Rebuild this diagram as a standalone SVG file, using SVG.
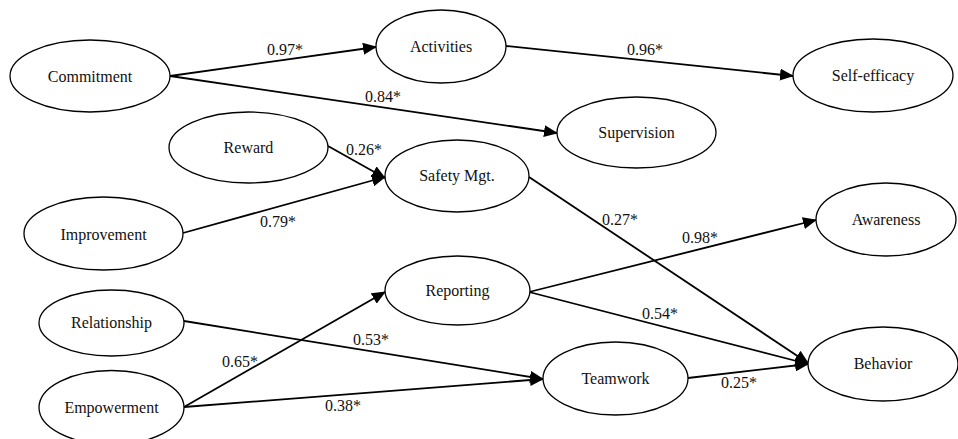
<svg xmlns="http://www.w3.org/2000/svg" width="958" height="439" viewBox="0 0 958 439">
<style>
.n ellipse{fill:#fff;stroke:#000;stroke-width:1.3}
.n text, .lb text{font-family:'Liberation Serif','Tinos','DejaVu Serif',serif;font-size:16px;text-anchor:middle;fill:#111}
.e line{stroke:#000;stroke-width:1.8;fill:none}
.e .a{marker-end:url(#ah)}
</style>
<defs>
<marker id="ah" markerUnits="userSpaceOnUse" markerWidth="14" markerHeight="12" viewBox="0 0 14 12" refX="13" refY="6" orient="auto">
<path d="M0,0 L14,6 L0,12 Z" fill="#000"/>
</marker>
</defs>
<g class="e" id="connectors">
<line class="a" x1="170" y1="76" x2="376" y2="47"/>
<line class="a" x1="506" y1="46" x2="793" y2="76"/>
<line class="a" x1="170" y1="76" x2="557" y2="133"/>
<line class="a" x1="328" y1="146" x2="385" y2="178"/>
<line class="a" x1="183" y1="233" x2="385" y2="177"/>
<line class="a" x1="529" y1="177" x2="808" y2="363"/>
<line class="a" x1="529" y1="292" x2="816" y2="220"/>
<line class="a" x1="529" y1="292" x2="808" y2="364"/>
<line class="a" x1="184" y1="321" x2="543" y2="379"/>
<line class="a" x1="184" y1="407" x2="385" y2="292"/>
<line class="a" x1="184" y1="407" x2="543" y2="379"/>
<line class="a" x1="688" y1="378" x2="808" y2="364"/>
</g>
<g id="Commitment" class="n"><ellipse cx="90" cy="76" rx="80" ry="36"/><text x="90" y="82" font-family="Liberation Serif, serif">Commitment</text></g>
<g id="Activities" class="n"><ellipse cx="441" cy="46.5" rx="65" ry="36.5"/><text x="441" y="52">Activities</text></g>
<g id="Self-efficacy" class="n"><ellipse cx="873" cy="75.5" rx="80" ry="36.5"/><text x="873" y="81">Self-efficacy</text></g>
<g id="Supervision" class="n"><ellipse cx="636.5" cy="132.5" rx="79.5" ry="35.5"/><text x="636.5" y="138">Supervision</text></g>
<g id="Reward" class="n"><ellipse cx="248.5" cy="147.5" rx="79.5" ry="35.5"/><text x="248.5" y="153">Reward</text></g>
<g id="SafetyMgt" class="n"><ellipse cx="457" cy="176" rx="72" ry="36"/><text x="457" y="181">Safety Mgt.</text></g>
<g id="Improvement" class="n"><ellipse cx="103.5" cy="233.5" rx="79.5" ry="36.5"/><text x="103.5" y="240">Improvement</text></g>
<g id="Awareness" class="n"><ellipse cx="886" cy="219.5" rx="70" ry="36.5"/><text x="886" y="225">Awareness</text></g>
<g id="Reporting" class="n"><ellipse cx="457.5" cy="290.5" rx="72.5" ry="34.5"/><text x="457.5" y="296">Reporting</text></g>
<g id="Relationship" class="n"><ellipse cx="111.5" cy="323" rx="72.5" ry="33"/><text x="111.5" y="328">Relationship</text></g>
<g id="Empowerment" class="n"><ellipse cx="111.5" cy="407.5" rx="72.5" ry="37"/><text x="111.5" y="413">Empowerment</text></g>
<g id="Teamwork" class="n"><ellipse cx="615.5" cy="378.5" rx="72.5" ry="36.5"/><text x="615.5" y="384">Teamwork</text></g>
<g id="Behavior" class="n"><ellipse cx="883" cy="364" rx="75" ry="37"/><text x="883" y="369">Behavior</text></g>
<g class="lb" id="labels">
<text x="285" y="55">0.97*</text>
<text x="645" y="55">0.96*</text>
<text x="383" y="102">0.84*</text>
<text x="364" y="155">0.26*</text>
<text x="278" y="227">0.79*</text>
<text x="620" y="225">0.27*</text>
<text x="700" y="243">0.98*</text>
<text x="660" y="319">0.54*</text>
<text x="371" y="345">0.53*</text>
<text x="240" y="367">0.65*</text>
<text x="343" y="411">0.38*</text>
<text x="739" y="388">0.25*</text>
</g>
</svg>
